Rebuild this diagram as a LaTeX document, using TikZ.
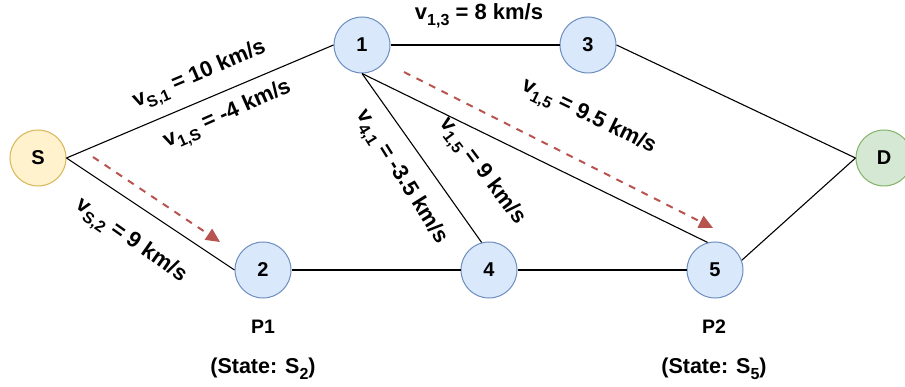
\documentclass[tikz,border=0pt]{standalone}
\usepackage{fontspec}
\setmainfont{Liberation Sans}
\usetikzlibrary{arrows.meta}
\definecolor{bfill}{HTML}{DAE8FC}
\definecolor{bline}{HTML}{6C8EBF}
\definecolor{yfill}{HTML}{FFF2CC}
\definecolor{yline}{HTML}{D6B656}
\definecolor{gfill}{HTML}{D5E8D4}
\definecolor{gline}{HTML}{82B366}
\definecolor{rline}{HTML}{B85450}
\newcommand\sbx[1]{\raisebox{-0.28em}{\fontsize{16}{16}\selectfont #1}}
\begin{document}
\begin{tikzpicture}[x=1pt,y=-1pt,
  vert/.style={circle, draw=bline, fill=bfill, minimum size=56pt, inner sep=0pt, line width=1pt,
    font=\fontsize{20}{20}\selectfont\bfseries},
  yvert/.style={vert, draw=yline, fill=yfill},
  gvert/.style={vert, draw=gline, fill=gfill},
  edge/.style={draw=black, line width=1.1pt},
  flow/.style={draw=rline, line width=2pt, dash pattern=on 7pt off 7pt,
    -{Triangle[length=14pt,width=13pt]}},
  lbl/.style={font=\fontsize{22}{23}\selectfont\bfseries, inner sep=0pt},
  plbl/.style={font=\fontsize{19.5}{20}\selectfont\bfseries, inner sep=0pt},
  slbl/.style={font=\fontsize{21.5}{22}\selectfont\bfseries, inner sep=0pt}]
\useasboundingbox (0,0) rectangle (905,387);
\node[yvert] (S) at (38,158) {S};
\node[vert] (n1) at (362,45) {1};
\node[vert] (n3) at (588,45) {3};
\node[gvert] (D) at (884,158) {D};
\node[vert] (n2) at (263,270) {2};
\node[vert] (n4) at (489,270) {4};
\node[vert] (n5) at (715,270) {5};

\draw[edge] (S.east) -- (n1.west);
\draw[edge] (S.east) -- (n2.west);
\draw[edge] (n1.east) -- (n3.west);
\draw[edge] (n3.east) -- (D.west);
\draw[edge] (n2.east) -- (n4.west);
\draw[edge] (n4.east) -- (n5.west);
\draw[edge] (n1.south) -- (n4.105);
\draw[edge] (n1.south) -- (n5.105);
\draw[edge] (n5.20) -- (D.west);

\coordinate (a1s) at (93,157);
\coordinate (a1e) at (220,242);
\coordinate (a2s) at (404,72);
\coordinate (a2e) at (713,228);
\draw[flow] (a1s) -- (a1e);
\draw[flow] (a2s) -- (a2e);

\node[lbl, rotate=23] (l1) at (200,76) {v\sbx{S,1} = 10 km/s};
\node[lbl, rotate=24] (l2) at (228,116) {v\sbx{1,S} = -4 km/s};
\node[lbl] (l3) at (479,16) {v\sbx{1,3} = 8 km/s};
\node[lbl, rotate=-58] (l4) at (400,178) {v\sbx{4,1} = -3.5 km/s};
\node[lbl, rotate=-53] (l5) at (481,172) {v\sbx{1,5} = 9 km/s};
\node[lbl, rotate=-26] (l6) at (588,118) {v\sbx{1,5} = 9.5 km/s};
\node[lbl, rotate=-35] (l7) at (130,242) {v\sbx{S,2} = 9 km/s};

\node[plbl] (p1) at (263,327) {P1};
\node[slbl] (s1) at (263,369) {(State: S\sbx{2})};
\node[plbl] (p2) at (714,327) {P2};
\node[slbl] (s2) at (714,369) {(State: S\sbx{5})};
\end{tikzpicture}
\end{document}
